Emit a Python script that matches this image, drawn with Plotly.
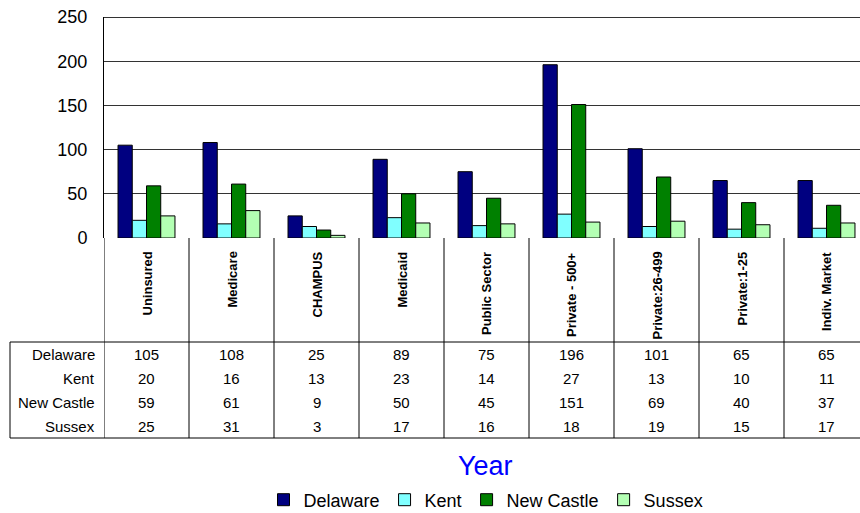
import plotly.graph_objects as go

# categories and series
categories = ["Uninsured", "Medicare", "CHAMPUS", "Medicaid", "Public Sector",
              "Private - 500+", "Private:26-499", "Private:1-25", "Indiv. Market"]
delaware = [105, 108, 25, 89, 75, 196, 101, 65, 65]
kent = [20, 16, 13, 23, 14, 27, 13, 10, 11]
new_castle = [59, 61, 9, 50, 45, 151, 69, 40, 37]
sussex = [25, 31, 3, 17, 16, 18, 19, 15, 17]

series_names = ["Delaware", "Kent", "New Castle", "Sussex"]
series_values = [delaware, kent, new_castle, sussex]
colors = ["#000080", "#80FFFF", "#008000", "#B3FFB3"]

# body margin is removed below, so the figure fills the window
W, H = 860, 513
L, T = 104, 17
FONT = "Arial, Liberation Sans, sans-serif"


def py(p):
    # window pixel row -> paper y
    return (H - p) / (H - T)


def px_(p):
    # window pixel column -> paper x
    return (p - L) / (W - L)


xs = list(range(len(categories)))
fig = go.Figure()
for name, vals, col in zip(series_names, series_values, colors):
    fig.add_trace(go.Bar(x=xs, y=vals, name=name, marker_color=col,
                         marker_line_color="black", marker_line_width=1))

shapes = []
# table horizontal lines
for p in [342, 438]:
    shapes.append(dict(type="line", xref="paper", yref="paper",
                       x0=px_(10), x1=1.0, y0=py(p), y1=py(p),
                       line=dict(color="black", width=1)))
# table left border
shapes.append(dict(type="line", xref="paper", yref="paper",
                   x0=px_(10), x1=px_(10), y0=py(342), y1=py(438),
                   line=dict(color="black", width=1)))
# column dividers
for xv in [-0.5] + [i + 0.5 for i in range(len(categories) - 1)]:
    shapes.append(dict(type="line", xref="x", yref="paper",
                       x0=xv, x1=xv, y0=py(238), y1=py(438),
                       line=dict(color="black", width=1)))
# top border of plot
shapes.append(dict(type="line", xref="paper", yref="y", x0=0, x1=1, y0=250, y1=250,
                   line=dict(color="#333", width=2)))

annotations = []
# category labels (rotated, string end aligned at the top of the header row)
for i, c in enumerate(categories):
    annotations.append(dict(x=i, y=py(250), xref="x", yref="paper", text=c,
                            textangle=-90, showarrow=False, xanchor="center",
                            yanchor="top",
                            font=dict(family=FONT, size=13, color="black", weight="bold")))
# table rows
row_pix = [354, 378, 402, 426]
for name, vals, p in zip(series_names, series_values, row_pix):
    annotations.append(dict(x=px_(97), y=py(p), xref="paper", yref="paper", text=name,
                            showarrow=False, xanchor="right", yanchor="middle",
                            font=dict(family=FONT, size=15, color="black")))
    for i, v in enumerate(vals):
        annotations.append(dict(x=i, y=py(p), xref="x", yref="paper", text=str(v),
                                showarrow=False, xanchor="center", yanchor="middle",
                                font=dict(family=FONT, size=15, color="black")))
# axis title "Year"
annotations.append(dict(x=px_(485), y=py(466), xref="paper", yref="paper", text="Year",
                        showarrow=False, xanchor="center", yanchor="middle",
                        font=dict(family=FONT, size=27, color="#0000FF")))

fig.update_layout(
    width=W, height=H,
    margin=dict(l=L, r=0, t=T, b=0, autoexpand=False),
    plot_bgcolor="white", paper_bgcolor="white",
    font=dict(family=FONT, color="black"),
    barmode="group", bargap=0.33, bargroupgap=0,
    hovermode=False,
    showlegend=True,
    legend=dict(orientation="h", x=px_(486), xanchor="center", y=py(500),
                yanchor="middle", font=dict(family=FONT, size=18),
                itemwidth=30, tracegroupgap=0),
    shapes=shapes, annotations=annotations,
    xaxis=dict(range=[-0.5, -0.5 + (W - L) / 85.0], showticklabels=False,
               showgrid=False, zeroline=False, showline=False, fixedrange=True),
    yaxis=dict(range=[0, 250], domain=[py(238), 1], dtick=50,
               showgrid=True, gridcolor="#333", gridwidth=1,
               zeroline=False, showline=True, linecolor="black", linewidth=1,
               tickfont=dict(family=FONT, size=18), ticks="",
               ticklabelstandoff=12, ticklabeloverflow="allow"),
)

fig.write_html("out.html", config={"displayModeBar": False},
               post_script="document.body.style.margin='0';"
                           "document.body.style.overflow='hidden';")
